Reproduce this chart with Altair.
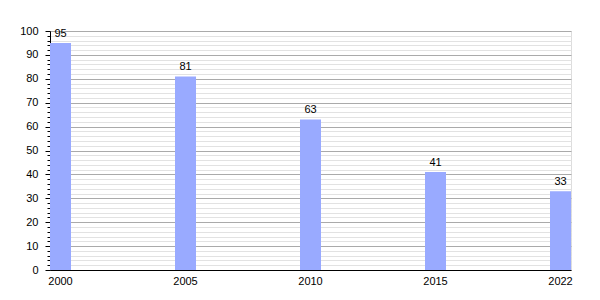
import altair as alt
import pandas as pd

years = ["2000", "2005", "2010", "2015", "2022"]
values = [95, 81, 63, 41, 33]
y_ticks = list(range(0, 101, 2))

df = pd.DataFrame({"year": years, "value": values})

FONT = "Liberation Sans"

x_enc = alt.X(
    "year:N",
    sort=years,
    title=None,
    scale=alt.Scale(paddingInner=0.832, paddingOuter=0),
    axis=alt.Axis(
        labelAngle=0,
        ticks=False,
        domainColor="black",
        labelColor="black",
        labelFont=FONT,
        labelFontSize=11,
        labelPadding=5,
        grid=False,
    ),
)

y_enc = alt.Y(
    "value:Q",
    title=None,
    scale=alt.Scale(domain=[0, 100], nice=False),
    axis=alt.Axis(
        values=y_ticks,
        labelExpr="datum.value % 10 === 0 ? datum.label : ''",
        labelOverlap=False,
        grid=True,
        gridColor=alt.condition("datum.value % 10 === 0", alt.value("#aaaaaa"), alt.value("#e2e2e2")),
        tickColor="black",
        tickSize=alt.condition("datum.value % 10 === 0", alt.value(5), alt.value(3)),
        domainColor="black",
        labelColor="black",
        labelFont=FONT,
        labelFontSize=11,
        labelPadding=7,
    ),
)

base = alt.Chart(df).encode(x=x_enc, y=y_enc)

bars = base.mark_bar(color="#99aaff")

labels = base.mark_text(
    baseline="bottom", dy=-4, font=FONT, fontSize=11, color="black"
).encode(text="value:Q")

chart = (
    alt.layer(bars, labels)
    .properties(
        width=521,
        height=239,
        autosize=alt.AutoSizeParams(type="none"),
        padding={"left": 50, "top": 31, "right": 29, "bottom": 30},
    )
    .configure_view(stroke=None)
    .configure(background="white")
)

chart.save("out.html", embed_options={"renderer": "svg", "actions": False})
